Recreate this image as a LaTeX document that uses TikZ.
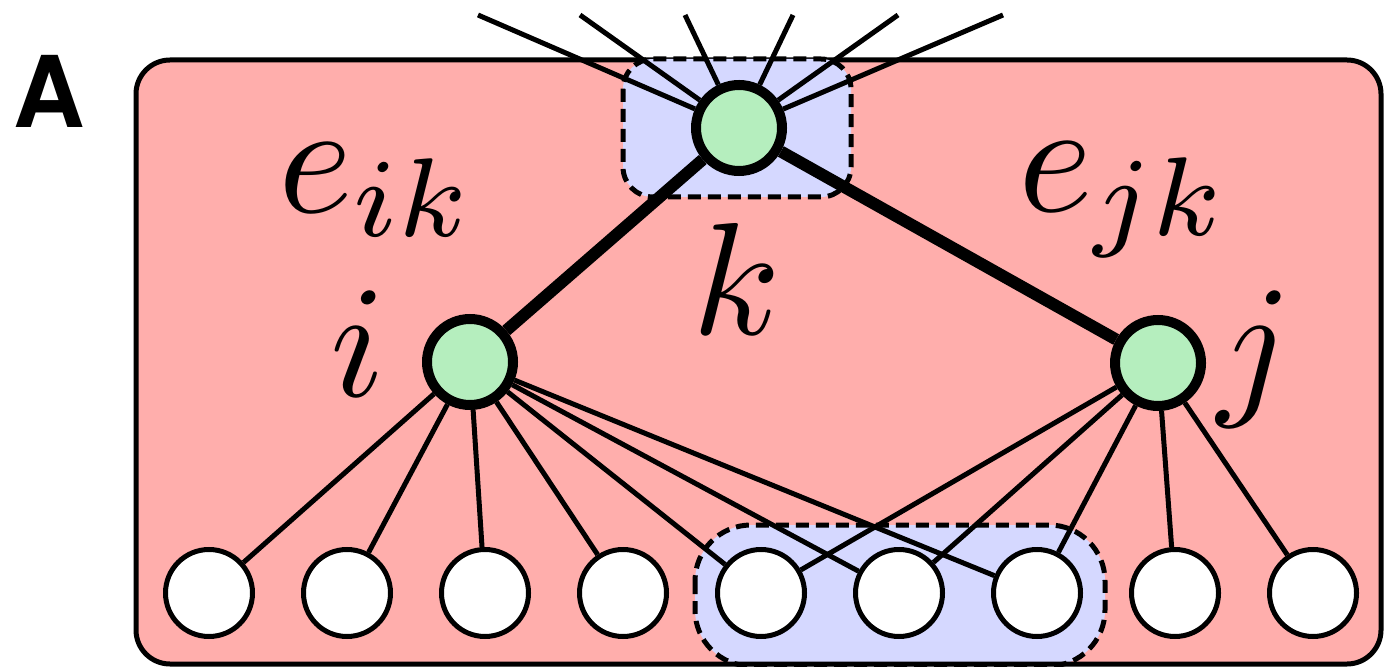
\documentclass[tikz,border=0pt]{standalone}
\usepackage{fontspec}
\newfontfamily\panelfont{TeX Gyre Heros}

\definecolor{cellpink}{HTML}{FFAEAC}
\definecolor{hubblue}{HTML}{D5D8FF}
\definecolor{vgreen}{HTML}{B5EEBE}

\begin{document}
\begin{tikzpicture}[x=0.5pt,y=-0.5pt]
\tikzstyle{lab}=[scale=8,inner sep=0pt]
\tikzstyle{hub}=[circle,draw,fill=vgreen,line width=5pt,minimum size=43pt,inner sep=0pt]
\tikzstyle{leaf}=[circle,draw,fill=white,line width=2.5pt,minimum size=43.5pt,inner sep=0pt]
\tikzstyle{group}=[draw,fill=hubblue,line width=2.5pt,dash pattern=on 6.5pt off 3.5pt]
\tikzstyle{edge}=[line width=2.5pt]
\tikzstyle{bond}=[line width=6pt]

\useasboundingbox (0,0) rectangle (1384,667);
\clip (0,0) rectangle (1384,667);

%
% Panel label
%
\node[font=\panelfont\bfseries\fontsize{49.5}{50}\selectfont,inner sep=0pt] (panel) at (49,91) {A};

% Fill the pink cell
\fill[cellpink,rounded corners=17pt] (136,60) rectangle (1381,664);

% Dashed group round the bottom leaves
\draw[group,rounded corners=28pt] (695,525) rectangle (1105,666);

% Outline of the cell
\draw[line width=2.5pt,rounded corners=17pt] (136,60) rectangle (1381,664);

% Dashed group round the top hub
\draw[group,rounded corners=15pt] (623,59) rectangle (851,197);

%
% The three hubs and the row of leaves
%
\node[hub] (k) at (739,128) {};
\node[hub] (i) at (470,362) {};
\node[hub] (j) at (1158,363) {};
\foreach \n in {1,...,9}
  \node[leaf] (b\n) at ({71+138*\n},593) {};

% Free ends of the lines leaving k upwards
\foreach \x [count=\n] in {478,580,685,793,898,1003}
  \coordinate (t\n) at (\x,15);

% Lines out of the top of the cell
\foreach \n in {1,...,6}
  \draw[edge] (k) -- (t\n);

% Thick bonds from k
\draw[bond] (i) -- (k);
\draw[bond] (j) -- (k);

% Leaves of i and j
\foreach \n in {1,...,7}
  \draw[edge] (i) -- (b\n);
\foreach \n in {5,...,9}
  \draw[edge] (j) -- (b\n);

%
% Labels
%
\node[lab,anchor=base west] (eik) at (275,213) {$e_{ik}$};
\node[lab,anchor=base west] (ejk) at (1015,212) {$e_{jk}$};
\node[lab,anchor=base] (klab) at (737,335) {$k$};
\node[lab,anchor=base] (ilab) at (358,396) {$i$};
\node[lab,anchor=base] (jlab) at (1255,397) {$j$};

\end{tikzpicture}
\end{document}
